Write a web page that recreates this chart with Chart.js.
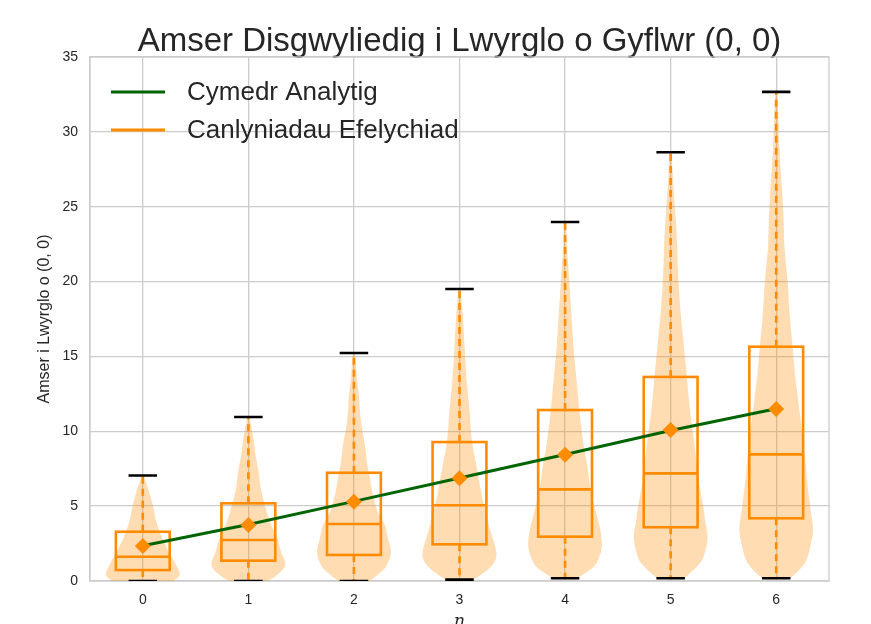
<!DOCTYPE html>
<html><head><meta charset="utf-8">
<script src="https://cdn.jsdelivr.net/npm/chart.js@4/dist/chart.umd.min.js"></script>
<style>html,body{margin:0;padding:0;background:#fff;overflow:hidden}#wrap{width:871px;height:632px}</style>
</head><body><div id="wrap"><canvas id="c" width="871" height="632"></canvas></div>
<script>
// ---------- data ----------
const categories = [0, 1, 2, 3, 4, 5, 6];
const yTicks = [0, 5, 10, 15, 20, 25, 30, 35];
const analyticMean = [2.35, 3.78, 5.32, 6.88, 8.45, 10.05, 11.5];
const simMean      = [2.34, 3.74, 5.30, 6.86, 8.44, 10.09, 11.49];
const q1           = [0.73, 1.36, 1.74, 2.45, 2.96, 3.59, 4.19];
const median       = [1.62, 2.74, 3.81, 5.06, 6.12, 7.19, 8.46];
const q3           = [3.29, 5.19, 7.23, 9.28, 11.42, 13.63, 15.65];
const dataMin      = [0, 0, 0, 0.09, 0.18, 0.18, 0.18];
const dataMax      = [7.05, 10.95, 15.23, 19.5, 23.98, 28.64, 32.67];
// violin outlines: value levels and relative density at each level
const violinLevels = [
  [0, 0.4, 1, 2, 3, 4, 5, 6, 7.05],
  [0, 0.4, 1.07, 1.94, 2.87, 3.94, 5.07, 6.2, 7.3, 8.4, 9.5, 10.6, 10.95],
  [0, 0.6, 1.07, 1.94, 2.87, 3.74, 4.6, 5.74, 6.88, 7.95, 9.08, 10.2, 11.3, 12.4, 13.5, 14.6, 15.23],
  [0.09, 0.73, 1.27, 1.87, 2.74, 3.6, 4.54, 5.6, 6.74, 7.88, 8.95, 10.1, 11.2, 13.4, 15.6, 17.9, 19.5],
  [0.18, 0.87, 1.54, 2.4, 3.54, 4.4, 5.54, 6.6, 7.75, 8.88, 11.1, 13.3, 15.6, 17.8, 20, 22.2, 23.98],
  [0.18, 1.2, 2.07, 2.94, 3.87, 4.94, 6.07, 7.2, 9.4, 11.6, 13.9, 16.1, 18.3, 20.6, 22.8, 25, 27.2, 28.64],
  [0.18, 1.2, 2.27, 3.4, 4.54, 5.6, 6.74, 8.95, 11.2, 13.4, 15.6, 17.9, 20.1, 22.3, 24.6, 26.8, 29, 31.3, 32.67]
];
const violinDensity = [
  [30, 36, 33, 25, 18, 13, 10, 6, 1],
  [19, 28, 36, 32, 28, 21, 16, 12, 10, 7, 5, 2, 1],
  [16, 27, 33, 37, 34, 31, 24, 19, 16, 13, 11, 8, 6, 5, 3, 2, 1],
  [14, 27, 34, 36, 33, 29, 26, 22, 19, 16, 13, 11, 10, 7, 5, 3, 1],
  [11, 26, 32, 35, 33, 30, 26, 23, 21, 18, 14, 11, 8, 6, 4, 2, 1],
  [13, 28, 33, 35, 33, 31, 28, 26, 22, 18, 15, 12, 9, 7, 6, 4, 2, 1],
  [14, 28, 33, 36, 34, 32, 30, 27, 23, 19, 16, 13, 11, 8, 7, 5, 3, 2, 1]
];
const seriesLabels = ['Cymedr Analytig', 'Canlyniadau Efelychiad'];

// ---------- styles ----------
const ORANGE = '#ff8c00', GREEN = '#006400', TEXT = '#262626', GRID = '#cccccc';
const VIOLIN_HALF = 0.35, BOX_HALF = 0.255, CAP_HALF = 0.135;
const FONT = "'Liberation Sans', Arial, Helvetica, sans-serif";
Chart.defaults.font.family = FONT;
Chart.defaults.color = TEXT;

function smoothSide(ctx, pts, moveFirst) {
  if (moveFirst) ctx.moveTo(pts[0][0], pts[0][1]); else ctx.lineTo(pts[0][0], pts[0][1]);
  for (let i = 0; i < pts.length - 1; i++) {
    const p0 = pts[i - 1] || pts[i], p1 = pts[i], p2 = pts[i + 1], p3 = pts[i + 2] || pts[i + 1];
    ctx.bezierCurveTo(p1[0] + (p2[0] - p0[0]) / 6, p1[1] + (p2[1] - p0[1]) / 6,
                      p2[0] - (p3[0] - p1[0]) / 6, p2[1] - (p3[1] - p1[1]) / 6, p2[0], p2[1]);
  }
}

const violinPlugin = {
  id: 'violins',
  beforeDatasetsDraw(chart) {
    const { ctx, chartArea: a, scales: { x, y } } = chart;
    ctx.save();
    ctx.beginPath(); ctx.rect(a.left, a.top, a.right - a.left, a.bottom - a.top); ctx.clip();
    categories.forEach((c, i) => {
      const lv = violinLevels[i], dn = violinDensity[i], dmax = Math.max(...dn);
      const right = lv.map((v, k) => [x.getPixelForValue(c + VIOLIN_HALF * dn[k] / dmax), y.getPixelForValue(v)]);
      const left = lv.map((v, k) => [x.getPixelForValue(c - VIOLIN_HALF * dn[k] / dmax), y.getPixelForValue(v)]).reverse();
      ctx.beginPath();
      smoothSide(ctx, right, true);
      smoothSide(ctx, left, false);
      ctx.closePath();
      ctx.fillStyle = 'rgba(255,140,0,0.3)';
      ctx.fill();
    });
    categories.forEach((c, i) => {
      const xc = x.getPixelForValue(c);
      // dashed whiskers
      ctx.strokeStyle = ORANGE; ctx.lineWidth = 2.6; ctx.setLineDash([7, 5]);
      ctx.beginPath();
      ctx.moveTo(xc, y.getPixelForValue(q3[i])); ctx.lineTo(xc, y.getPixelForValue(dataMax[i]));
      ctx.moveTo(xc, y.getPixelForValue(q1[i])); ctx.lineTo(xc, y.getPixelForValue(dataMin[i]));
      ctx.stroke();
      ctx.setLineDash([]);
      // box
      const xl = x.getPixelForValue(c - BOX_HALF), xr = x.getPixelForValue(c + BOX_HALF);
      const yt = y.getPixelForValue(q3[i]), yb = y.getPixelForValue(q1[i]), ym = y.getPixelForValue(median[i]);
      ctx.lineWidth = 2.6; ctx.strokeStyle = ORANGE;
      ctx.strokeRect(xl, yt, xr - xl, yb - yt);
      ctx.beginPath(); ctx.moveTo(xl, ym); ctx.lineTo(xr, ym); ctx.stroke();
      // caps
      ctx.strokeStyle = '#000'; ctx.lineWidth = 2.6;
      const cl = x.getPixelForValue(c - CAP_HALF), cr = x.getPixelForValue(c + CAP_HALF);
      ctx.beginPath();
      ctx.moveTo(cl, y.getPixelForValue(dataMax[i])); ctx.lineTo(cr, y.getPixelForValue(dataMax[i]));
      ctx.moveTo(cl, y.getPixelForValue(dataMin[i])); ctx.lineTo(cr, y.getPixelForValue(dataMin[i]));
      ctx.stroke();
    });
    ctx.restore();
  }
};

const framePlugin = {
  id: 'frame',
  beforeDatasetsDraw(chart) {
    const { ctx, chartArea: a } = chart;
    ctx.save(); ctx.strokeStyle = GRID; ctx.lineWidth = 1.3;
    ctx.strokeRect(a.left, a.top, a.right - a.left, a.bottom - a.top);
    ctx.restore();
  }
};

const legendPlugin = {
  id: 'insideLegend',
  afterDraw(chart) {
    const { ctx, chartArea: a } = chart;
    const colors = [GREEN, ORANGE];
    ctx.save();
    ctx.font = '26px ' + FONT; ctx.textBaseline = 'middle'; ctx.fillStyle = TEXT;
    seriesLabels.forEach((lab, k) => {
      const yy = a.top + 35 + k * 38;
      ctx.strokeStyle = colors[k]; ctx.lineWidth = 3;
      ctx.beginPath(); ctx.moveTo(a.left + 21, yy); ctx.lineTo(a.left + 75, yy); ctx.stroke();
      ctx.fillText(lab, a.left + 97, yy + 1);
    });
    ctx.restore();
  }
};

new Chart(document.getElementById('c'), {
  type: 'scatter',
  data: {
    datasets: [
      { type: 'line', label: seriesLabels[0], data: categories.map((c, i) => ({ x: c, y: analyticMean[i] })),
        borderColor: GREEN, borderWidth: 3, pointRadius: 0, fill: false, order: 2 },
      { type: 'scatter', label: seriesLabels[1], data: categories.map((c, i) => ({ x: c, y: simMean[i] })),
        pointStyle: 'rectRot', pointRadius: 8, backgroundColor: ORANGE, borderColor: ORANGE, borderWidth: 0, order: 1 }
    ]
  },
  options: {
    responsive: false, animation: false,
    layout: { padding: { left: 0, right: 42, top: 0, bottom: 0 } },
    plugins: {
      legend: { display: false }, tooltip: { enabled: false },
      title: { display: true, text: 'Amser Disgwyliedig i Lwyrglo o Gyflwr (0, 0)', fullSize: false,
               font: { size: 33, weight: 'normal', lineHeight: 1 }, color: TEXT, padding: { top: 25, bottom: -1 } }
    },
    scales: {
      x: { type: 'linear', min: -0.5, max: 6.5,
           afterBuildTicks: s => { s.ticks = categories.map(v => ({ value: v })); },
           afterFit: s => { s.height = 51; },
           ticks: { font: { size: 14 }, color: TEXT, padding: 11, callback: v => String(v) },
           grid: { color: GRID, lineWidth: 1.3, drawTicks: false },
           border: { color: GRID, width: 1.3 },
           title: { display: true, text: 'n', font: { size: 17, style: 'italic', family: "'DejaVu Serif', serif" }, color: TEXT, padding: 0 } },
      y: { min: 0, max: 35,
           afterBuildTicks: s => { s.ticks = yTicks.map(v => ({ value: v })); },
           afterFit: s => { s.width = 90; },
           ticks: { font: { size: 14 }, color: TEXT, padding: 12 },
           grid: { color: GRID, lineWidth: 1.3, drawTicks: false },
           border: { color: GRID, width: 1.3 },
           title: { display: true, text: 'Amser i Lwyrglo o (0, 0)', font: { size: 16 }, color: TEXT, padding: { top: 35, bottom: 0 } } }
    }
  },
  plugins: [framePlugin, violinPlugin, legendPlugin]
});
</script></body></html>
